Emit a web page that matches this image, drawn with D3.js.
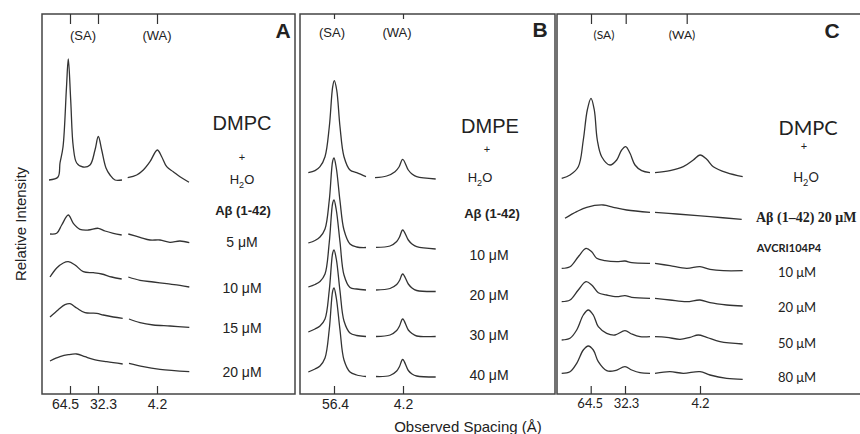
<!DOCTYPE html>
<html>
<head>
<meta charset="utf-8">
<script src="https://cdn.jsdelivr.net/npm/d3@7"></script>
<style>
  body { margin: 0; background: #fff; }
  svg text { fill: #222; }
</style>
</head>
<body>
<svg id="chart" width="860" height="434"></svg>
<script>
// ---- Data (x = detector position, a.u.; y = relative intensity, a.u.) ----

// Panel A: DMPC + H2O, then Aβ(1-42)
var tickPosA = [2.8, 5.6, 11.5];
var tickLabelsA = ['64.5', '32.3', '4.2'];
var concA = ['5 μM', '10 μM', '15 μM', '20 μM'];
var offsetsA = [21.4, 16.0, 11.7, 7.7, 3.3];
var saA = [
  [[0.7,0],[1.6,0.3],[1.8,1.7],[2.1,3.3],[2.45,9.3],[2.63,12.1],[2.87,8.0],[3.13,3.3],[3.47,1.7],[4.1,1.3],[4.8,1.5],[5.3,3.0],[5.63,4.35],[5.97,3.0],[6.4,1.2],[6.8,0.5],[7.3,0],[8.0,0]],
  [[0.8,0],[1.47,0.07],[1.97,0.9],[2.63,1.9],[3.13,1.07],[3.8,0.47],[4.63,0.4],[5.63,0.57],[6.3,0.3],[7.13,0.07],[7.97,-0.1]],
  [[0.8,0],[1.47,0.9],[2.13,1.4],[2.63,1.53],[3.3,1.2],[4.13,0.53],[5.13,0.43],[5.97,0.3],[6.97,0],[7.97,-0.2]],
  [[0.8,0],[1.63,0.73],[2.3,1.23],[2.8,1.33],[3.47,0.9],[4.3,0.43],[5.47,0.37],[6.13,0.2],[7.13,0],[8.07,-0.13]],
  [[0.8,0],[1.8,0.43],[2.63,0.63],[3.47,0.7],[4.3,0.43],[5.13,0.17],[6.47,-0.07],[8.07,-0.3]]
];
var waA = [
  [[8.57,0.23],[9.47,0.5],[10.13,1.0],[10.8,1.83],[11.53,3.0],[11.97,2.33],[12.47,1.33],[13.13,0.83],[13.8,0.33],[14.7,-0.23]],
  [[8.63,0],[9.8,-0.33],[10.8,-0.6],[11.8,-0.6],[12.8,-0.83],[13.8,-0.7],[14.73,-0.87]],
  [[8.63,0],[9.8,-0.33],[11.13,-0.5],[12.47,-0.67],[13.8,-0.83],[14.73,-1.0]],
  [[8.7,-0.2],[9.8,-0.57],[11.13,-0.8],[12.8,-0.9],[14.73,-1.03]],
  [[8.7,-0.23],[10.13,-0.57],[11.8,-0.83],[14.73,-1.07]]
];

// Panel B: DMPE + H2O, then Aβ(1-42)
var tickPosB = [3.4, 10.3];
var tickLabelsB = ['56.4', '4.2'];
var concB = ['10 μM', '20 μM', '30 μM', '40 μM'];
var offsetsB = [22.1, 15.0, 10.7, 6.2, 2.2];
var saB = [
  [[0.83,0.03],[1.5,0.23],[2.0,0.63],[2.5,1.63],[2.93,4.63],[3.27,8.63],[3.43,9.23],[3.67,8.3],[4.0,4.63],[4.4,1.63],[5.0,0.3],[5.67,0.03],[6.6,-0.37]],
  [[0.83,0.1],[1.5,0.35],[2.0,0.7],[2.5,1.5],[2.93,4.4],[3.27,8.3],[3.4,8.6],[3.63,7.6],[4.0,4.3],[4.4,1.4],[5.0,0.0],[5.67,-0.3],[6.6,-0.35]],
  [[0.83,0.0],[1.5,0.25],[2.0,0.55],[2.5,1.3],[2.93,4.5],[3.27,8.4],[3.4,8.7],[3.63,7.7],[4.0,4.5],[4.4,1.2],[5.0,-0.05],[5.67,-0.2],[6.6,-0.3]],
  [[0.83,0.0],[1.5,0.3],[2.0,0.6],[2.5,1.3],[2.93,4.2],[3.27,7.9],[3.4,8.2],[3.63,7.3],[4.0,4.1],[4.4,1.1],[5.0,-0.1],[5.67,-0.35],[6.6,-0.45]],
  [[0.83,0.0],[1.5,0.3],[2.0,0.6],[2.5,1.4],[2.93,4.3],[3.27,8.1],[3.4,8.4],[3.63,7.4],[4.0,4.2],[4.4,1.2],[5.0,0.0],[5.67,-0.3],[6.6,-0.45]]
];
var waB = [
  [[7.5,-0.47],[8.67,-0.3],[9.5,0.13],[9.9,0.6],[10.27,1.37],[10.83,0.3],[11.2,-0.1],[11.67,-0.37],[13.57,-0.6]],
  [[7.6,-0.33],[9.0,-0.2],[9.67,0.25],[9.95,0.7],[10.27,1.4],[10.83,0.4],[11.2,0.0],[11.67,-0.27],[13.57,-0.5]],
  [[7.6,-0.3],[9.0,-0.15],[9.67,0.25],[9.95,0.65],[10.27,1.3],[10.83,0.3],[11.2,-0.1],[11.67,-0.35],[13.57,-0.45]],
  [[7.6,-0.45],[9.0,-0.3],[9.67,0.15],[9.95,0.6],[10.27,1.3],[10.83,0.2],[11.2,-0.15],[11.67,-0.4],[13.57,-0.45]],
  [[7.6,-0.45],[9.0,-0.35],[9.67,0.1],[9.95,0.55],[10.27,1.25],[10.83,0.15],[11.2,-0.2],[11.67,-0.4],[13.57,-0.5]]
];

// Panel C: DMPC + H2O, Aβ(1-42) 20 μM, then AVCRI104P4
var tickPosTopC = [3.4, 6.87, 12.97];
var tickPosBottomC = [3.37, 6.8, 14.3];
var tickLabelsC = ['64.5', '32.3', '4.2'];
var concC = ['10 μM', '20 μM', '50 μM', '80 μM'];
var offsetsC = [21.6, 17.6, 12.6, 9.2, 5.4, 2.1];
var saC = [
  [[0.47,-0.03],[1.3,0.3],[2.13,1.13],[2.63,3.8],[3.03,6.8],[3.4,7.97],[3.73,6.8],[4.03,3.8],[4.47,2.13],[5.3,1.3],[5.97,1.8],[6.47,2.8],[6.87,3.13],[7.3,2.47],[7.8,1.3],[8.47,0.73],[9.3,0.53]],
  [[0.8,-0.03],[1.97,0.63],[2.97,1.07],[4.63,1.3],[5.63,1.07],[6.97,0.8],[9.3,0.57]],
  [[0.47,-0.03],[1.3,0.13],[2.13,1.13],[2.9,1.97],[3.47,1.63],[3.97,0.97],[4.8,0.73],[5.97,0.63],[6.8,0.7],[7.47,0.53],[9.3,0.47]],
  [[0.47,0.03],[1.3,0.2],[2.13,1.2],[2.9,2.03],[3.47,1.7],[4.13,0.93],[4.97,0.7],[5.97,0.53],[6.8,0.63],[7.47,0.47],[9.3,0.37]],
  [[0.47,0],[1.3,0.17],[1.97,1.0],[2.63,2.5],[3.13,3.0],[3.63,2.5],[4.13,1.33],[4.97,0.67],[5.8,0.5],[6.8,0.93],[7.47,0.6],[8.3,0.33],[9.3,0.33]],
  [[0.47,-0.03],[1.3,0.13],[1.97,0.97],[2.63,2.3],[3.13,2.7],[3.63,2.3],[4.13,1.13],[4.97,0.23],[5.8,0.23],[6.8,0.63],[7.47,0.3],[8.3,0.03],[9.3,-0.03]]
];
var waC = [
  [[9.8,0.53],[11.3,0.73],[12.63,1.13],[13.63,1.8],[14.3,2.3],[14.97,1.87],[15.63,1.13],[16.97,0.53],[18.57,0.13]],
  [[9.8,0.57],[11.97,0.4],[15.3,0.13],[18.47,-0.13]],
  [[9.8,0.47],[11.3,0.23],[12.97,-0.03],[14.3,0.13],[15.3,-0.13],[16.63,-0.27],[18.57,-0.27]],
  [[9.8,0.37],[11.3,0.2],[12.97,0.03],[14.3,0.2],[15.3,-0.07],[16.97,-0.3],[18.57,-0.4]],
  [[9.8,0.33],[10.97,0.27],[12.3,0.07],[13.3,0.27],[14.13,0.5],[14.97,0.27],[16.3,-0.17],[18.57,-0.4]],
  [[9.8,-0.03],[11.3,0.13],[12.63,-0.03],[14.3,0.13],[15.3,-0.2],[16.97,-0.53],[18.57,-0.63]]
];

// ---- Layout ----
var svg = d3.select('#chart');
var TOP = 14, BOTTOM = 394;
var SANS = '"Liberation Sans", Arial, sans-serif';
var CALI = 'Lato, "Open Sans", sans-serif';

var panels = [
  { name: 'A', left: 42, right: 295, font: SANS, offsets: offsetsA, sa: saA, wa: waA,
    ticksTop: tickPosA, ticksBottom: tickPosA, tickLabels: tickLabelsA, topTick: 10, tickFont: 14,
    labelShift: [-5, 5, 0] },
  { name: 'B', left: 300, right: 555, font: SANS, offsets: offsetsB, sa: saB, wa: waB,
    ticksTop: tickPosB, ticksBottom: tickPosB, tickLabels: tickLabelsB, topTick: 5, tickFont: 14,
    labelShift: [1, 0] },
  { name: 'C', left: 557, right: 861, font: CALI, offsets: offsetsC, sa: saC, wa: waC,
    ticksTop: tickPosTopC, ticksBottom: tickPosBottomC, tickLabels: tickLabelsC, topTick: 10, tickFont: 13,
    labelShift: [-1, 1, 0] }
];

var y = d3.scaleLinear().domain([0, 38]).range([BOTTOM, TOP]);

function addText(g, x, yy, txt, size, opts) {
  opts = opts || {};
  return g.append('text')
    .attr('x', x).attr('y', yy)
    .attr('text-anchor', opts.anchor || 'middle')
    .attr('font-family', opts.font || SANS)
    .attr('font-weight', opts.bold ? 'bold' : 'normal')
    .attr('font-size', size)
    .text(txt);
}

function addWater(g, x, yy, size, font) {
  var t = g.append('text')
    .attr('x', x).attr('y', yy)
    .attr('text-anchor', 'middle')
    .attr('font-family', font)
    .attr('font-size', size);
  t.append('tspan').text('H');
  t.append('tspan').attr('dy', 4).attr('font-size', size * 0.7).text('2');
  t.append('tspan').attr('dy', -4).text('O');
}

panels.forEach(function(p) {
  var g = svg.append('g').attr('class', 'panel-' + p.name);
  var x = d3.scaleLinear().domain([0, (p.right - p.left) / 10]).range([p.left, p.right]);

  g.append('rect')
    .attr('x', p.left).attr('y', TOP)
    .attr('width', p.right - p.left).attr('height', BOTTOM - TOP)
    .attr('fill', 'none').attr('stroke', '#444').attr('stroke-width', 1.5);

  var topAxis = d3.axisTop(x).tickValues(p.ticksTop).tickFormat('')
    .tickSizeInner(-p.topTick).tickSizeOuter(0);
  g.append('g').attr('transform', 'translate(0,' + TOP + ')').call(topAxis)
    .call(function(a) { a.select('.domain').remove(); })
    .selectAll('line').attr('stroke', '#333').attr('stroke-width', 1.2);

  var bottomAxis = d3.axisBottom(x).tickValues(p.ticksBottom)
    .tickFormat(function(d, i) { return p.tickLabels[i]; })
    .tickSizeInner(-8).tickSizeOuter(0).tickPadding(5);
  var ba = g.append('g').attr('transform', 'translate(0,' + BOTTOM + ')').call(bottomAxis);
  ba.select('.domain').remove();
  ba.selectAll('line').attr('stroke', '#333').attr('stroke-width', 1.2);
  ba.selectAll('text')
    .attr('font-family', p.font).attr('font-size', p.tickFont).attr('fill', '#222')
    .attr('dx', function(d, i) { return p.labelShift[i]; });

  p.offsets.forEach(function(off, i) {
    var line = d3.line()
      .x(function(d) { return x(d[0]); })
      .y(function(d) { return y(d[1] + off); })
      .curve(d3.curveCatmullRom.alpha(0.5));
    [p.sa[i], p.wa[i]].forEach(function(seg) {
      g.append('path').attr('d', line(seg))
        .attr('fill', 'none').attr('stroke', '#333')
        .attr('stroke-width', 1.3).attr('stroke-linejoin', 'round');
    });
  });

  p.g = g;
});

// Panel A texts
var gA = panels[0].g;
addText(gA, 83, 40, '(SA)', 13);
addText(gA, 157, 40, '(WA)', 13);
addText(gA, 283, 38, 'A', 21, { bold: true });
addText(gA, 242, 130, 'DMPC', 20);
addText(gA, 242, 161, '+', 11);
addWater(gA, 242, 184, 13, SANS);
addText(gA, 243, 215, 'Aβ (1-42)', 13, { bold: true });
[247, 293, 333, 377].forEach(function(yy, i) { addText(gA, 242, yy, concA[i], 14); });

// Panel B texts
var gB = panels[1].g;
addText(gB, 332, 37, '(SA)', 13);
addText(gB, 397, 37, '(WA)', 13);
addText(gB, 540, 37, 'B', 21, { bold: true });
addText(gB, 490, 133, 'DMPE', 20);
addText(gB, 487, 153, '+', 11);
addWater(gB, 480, 182, 13, SANS);
addText(gB, 492, 218, 'Aβ (1-42)', 13, { bold: true });
[260, 300, 340, 380].forEach(function(yy, i) { addText(gB, 489, yy, concB[i], 14); });

// Panel C texts
var gC = panels[2].g;
addText(gC, 604, 39, '(SA)', 12, { font: CALI });
addText(gC, 682, 39, '(WA)', 12, { font: CALI });
addText(gC, 832, 38, 'C', 21, { bold: true });
addText(gC, 808, 135, 'DMPC', 20, { font: CALI });
addText(gC, 804, 150, '+', 11, { font: CALI });
addWater(gC, 806, 182, 13, CALI);
addText(gC, 756, 222, 'Aβ (1–42) 20 μM', 14, { bold: true, anchor: 'start', font: '"Liberation Serif", "Times New Roman", serif' });
addText(gC, 789, 252, 'AVCRI104P4', 11, { bold: true, font: CALI });
[277, 312, 348, 382].forEach(function(yy, i) { addText(gC, 797, yy, concC[i], 13, { font: CALI }); });

// Axis titles
svg.append('text')
  .attr('transform', 'translate(26,224) rotate(-90)')
  .attr('text-anchor', 'middle')
  .attr('font-family', SANS).attr('font-size', 15)
  .text('Relative Intensity');
addText(svg, 468, 432, 'Observed Spacing (Å)', 15);
</script>
</body>
</html>
